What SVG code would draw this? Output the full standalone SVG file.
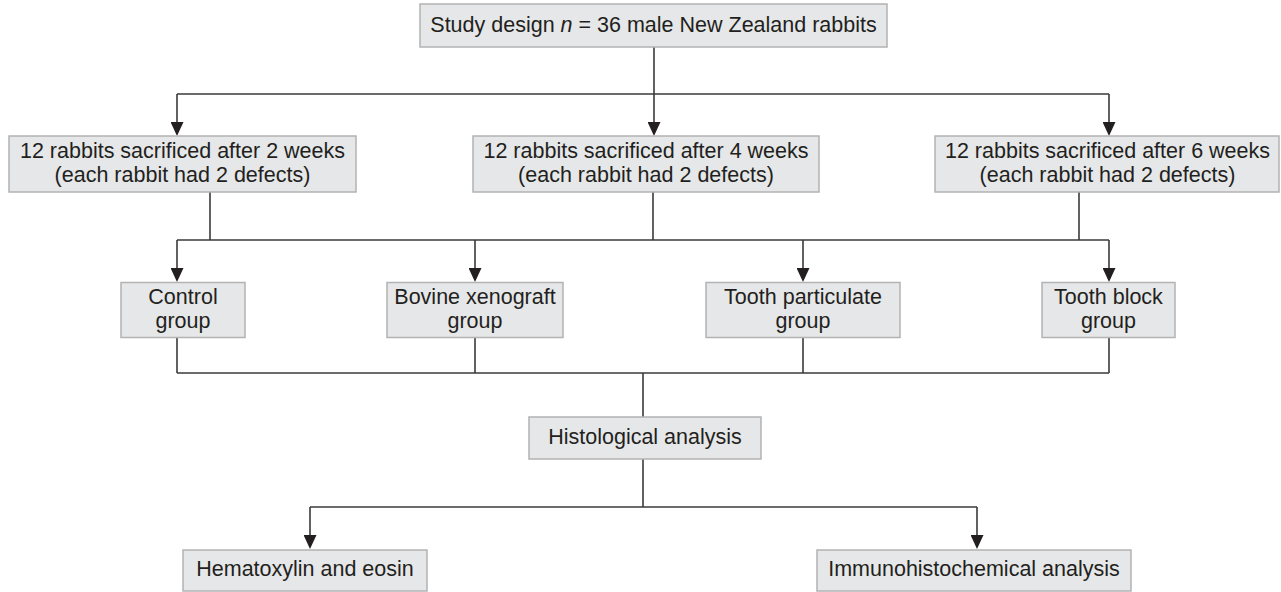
<svg xmlns="http://www.w3.org/2000/svg" width="1281" height="592" viewBox="0 0 1281 592">
<style>
.box{fill:#e6e7e8;stroke:#b3b3b3;stroke-width:1.5}
.t{font-family:"Liberation Sans",Arial,sans-serif;font-size:21.5px;fill:#231f20;text-anchor:middle}
.ln{fill:none;stroke:#3a3a3a;stroke-width:1.6}
.ar{marker-end:url(#ah)}
</style>
<defs>
<marker id="ah" markerWidth="14" markerHeight="13" refX="12" refY="6.5" orient="auto" markerUnits="userSpaceOnUse" viewBox="0 0 14 13">
<path d="M0,0 L14,6.5 L0,13 Z" fill="#231f20"/>
</marker>
</defs>
<g id="connectors">
<path class="ln" d="M654,47 V94"/>
<path class="ln" d="M177,94 H1109"/>
<path class="ln ar" d="M177,94 V134"/>
<path class="ln ar" d="M654,94 V134"/>
<path class="ln ar" d="M1109,94 V134"/>
<path class="ln" d="M210,192 V240"/>
<path class="ln" d="M653,192 V240"/>
<path class="ln" d="M1079,192 V240"/>
<path class="ln" d="M177,240 H1109"/>
<path class="ln ar" d="M177,240 V280"/>
<path class="ln ar" d="M475,240 V280"/>
<path class="ln ar" d="M803,240 V280"/>
<path class="ln ar" d="M1109,240 V280"/>
<path class="ln" d="M177,338 V373"/>
<path class="ln" d="M475,338 V373"/>
<path class="ln" d="M803,338 V373"/>
<path class="ln" d="M1109,338 V373"/>
<path class="ln" d="M177,373 H1109"/>
<path class="ln" d="M643,373 V417"/>
<path class="ln" d="M643,459 V507"/>
<path class="ln" d="M310,507 H977"/>
<path class="ln ar" d="M310,507 V547"/>
<path class="ln ar" d="M977,507 V547"/>
</g>
<g id="study">
<rect class="box" x="420" y="4" width="467" height="43"/>
<text class="t" x="653.5" y="32">Study design <tspan font-style="italic">n</tspan> = 36 male New Zealand rabbits</text>
</g>
<g id="week2">
<rect class="box" x="9" y="136" width="347" height="56"/>
<text class="t" x="182.5" y="157.5">12 rabbits sacrificed after 2 weeks</text>
<text class="t" x="182.5" y="181.5">(each rabbit had 2 defects)</text>
</g>
<g id="week4">
<rect class="box" x="473" y="136" width="346" height="56"/>
<text class="t" x="646" y="157.5">12 rabbits sacrificed after 4 weeks</text>
<text class="t" x="646" y="181.5">(each rabbit had 2 defects)</text>
</g>
<g id="week6">
<rect class="box" x="935" y="136" width="344" height="56"/>
<text class="t" x="1107.5" y="157.5">12 rabbits sacrificed after 6 weeks</text>
<text class="t" x="1107.5" y="181.5">(each rabbit had 2 defects)</text>
</g>
<g id="control">
<rect class="box" x="121" y="282.5" width="124" height="55"/>
<text class="t" x="183" y="304">Control</text>
<text class="t" x="183" y="328">group</text>
</g>
<g id="bovine">
<rect class="box" x="387" y="282.5" width="176" height="55"/>
<text class="t" x="475" y="304">Bovine xenograft</text>
<text class="t" x="475" y="328">group</text>
</g>
<g id="particulate">
<rect class="box" x="706" y="282.5" width="194" height="55"/>
<text class="t" x="803" y="304">Tooth particulate</text>
<text class="t" x="803" y="328">group</text>
</g>
<g id="block">
<rect class="box" x="1042" y="282.5" width="133" height="55"/>
<text class="t" x="1108.5" y="304">Tooth block</text>
<text class="t" x="1108.5" y="328">group</text>
</g>
<g id="histological">
<rect class="box" x="529" y="417" width="232" height="42"/>
<text class="t" x="645" y="444">Histological analysis</text>
</g>
<g id="he">
<rect class="box" x="183" y="550" width="244" height="41"/>
<text class="t" x="305" y="576">Hematoxylin and eosin</text>
</g>
<g id="ihc">
<rect class="box" x="817" y="550" width="314" height="41"/>
<text class="t" x="974" y="576">Immunohistochemical analysis</text>
</g>
</svg>
